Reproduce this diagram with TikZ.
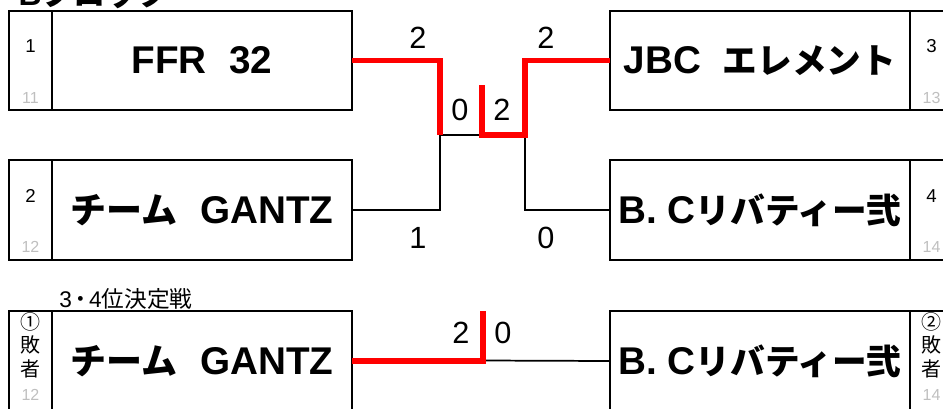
\documentclass[tikz,border=0pt]{standalone}
\usepackage{fontspec}
\setmainfont{Liberation Sans}
\newfontfamily\jp{Noto Sans CJK JP}
\usetikzlibrary{positioning}

\begin{document}
\begin{tikzpicture}[x=0.75pt,y=-0.75pt,
  namecell/.style={draw, line width=1.3pt, inner sep=0pt, outer sep=0pt,
    minimum width=225pt, minimum height=74.5pt, font=\fontsize{29}{30}\selectfont\bfseries},
  seedcell/.style={draw, line width=1.3pt, inner sep=0pt, outer sep=0pt,
    minimum width=32.25pt, minimum height=74.5pt},
  seednum/.style={font=\fontsize{14}{14}\selectfont},
  greynum/.style={font=\fontsize{12}{12}\selectfont, text=black!25},
  sidechar/.style={font=\jp\fontsize{15}{15}\selectfont, inner sep=0pt},
  score/.style={font=\fontsize{23}{24}\selectfont},
  line/.style={line width=1.3pt},
  win/.style={red, line width=3.8pt, line join=miter}]
\useasboundingbox (0,0) rectangle (943,408);

% block title, cut by the page edge
\node[anchor=base west, font=\fontsize{24}{24}\selectfont\bfseries] (blk) at (14,5) {B{\jp ブロック}};

% teams
\node[namecell] (n1) at (202,60.5) {FFR\hspace{17pt}32};
\node[seedcell] (s1) at (30.5,60.5) {};
\node[namecell] (n2) at (202,210) {{\jp\fontsize{27}{30}\selectfont チーム}\hspace{17pt}GANTZ};
\node[seedcell] (s2) at (30.5,210) {};
\node[namecell] (n3) at (760,60.5) {JBC\hspace{16pt}{\jp\fontsize{26}{30}\selectfont エレメント}};
\node[seedcell] (s3) at (931.5,60.5) {};
\node[namecell] (n4) at (760,210) {B.\hspace{8pt}C{\jp\fontsize{26}{30}\selectfont リバティー弐}};
\node[seedcell] (s4) at (931.5,210) {};

\foreach \x/\y/\a/\b in {30.5/60.5/1/11, 30.5/210/2/12, 931.5/60.5/3/13, 931.5/210/4/14}{
  \node[seednum] at (\x,\y-14) {\a};
  \node[greynum] at (\x,\y+37) {\b};
}

% bracket
\coordinate (sf1) at (440,135);
\coordinate (fin) at (482,135);
\coordinate (sf2) at (525,135);
\coordinate (champ) at (482,85);
\draw[line] (n2.east) -| (sf1) -- (fin);
\draw[line] (n4.west) -| (sf2);
\draw[win] (n1.east) -| (sf1);
\draw[win] (champ) -- (fin) -- (sf2) |- (n3.west);

\node[score] (r1) at (418,38) {2};
\node[score] (r2) at (418,238) {1};
\node[score] (r3) at (546,38) {2};
\node[score] (r4) at (546,238) {0};
\node[score] (r5) at (460,110) {0};
\node[score] (r6) at (502,110) {2};

% 3rd place match
\node[anchor=west, font=\fontsize{17}{18}\selectfont, inner sep=0pt] (ttl) at (59,299) {3{\jp\hspace{-2pt}・\hspace{-2pt}}4{\jp 位決定戦}};
\node[namecell] (n5) at (202,361) {{\jp\fontsize{27}{30}\selectfont チーム}\hspace{17pt}GANTZ};
\node[seedcell] (s5) at (30.5,361) {};
\node[namecell] (n6) at (760,361) {B.\hspace{8pt}C{\jp\fontsize{26}{30}\selectfont リバティー弐}};
\node[seedcell] (s6) at (931.5,361) {};

\foreach \x/\c in {30.5/①, 931.5/②}{
  \node[sidechar] at (\x,322) {\c};
  \node[sidechar] at (\x,345) {敗};
  \node[sidechar] at (\x,369) {者};
}
\node[greynum] at (30.5,395) {12};
\node[greynum] at (931.5,395) {14};

\coordinate (top3) at (483,311);
\coordinate (m3) at (483,360.5);
\draw[line] (n6.west) -- (m3);
\draw[win] (n5.east) -| (top3);
\node[score] (r7) at (461,333) {2};
\node[score] (r8) at (503,333) {0};
\end{tikzpicture}
\end{document}
